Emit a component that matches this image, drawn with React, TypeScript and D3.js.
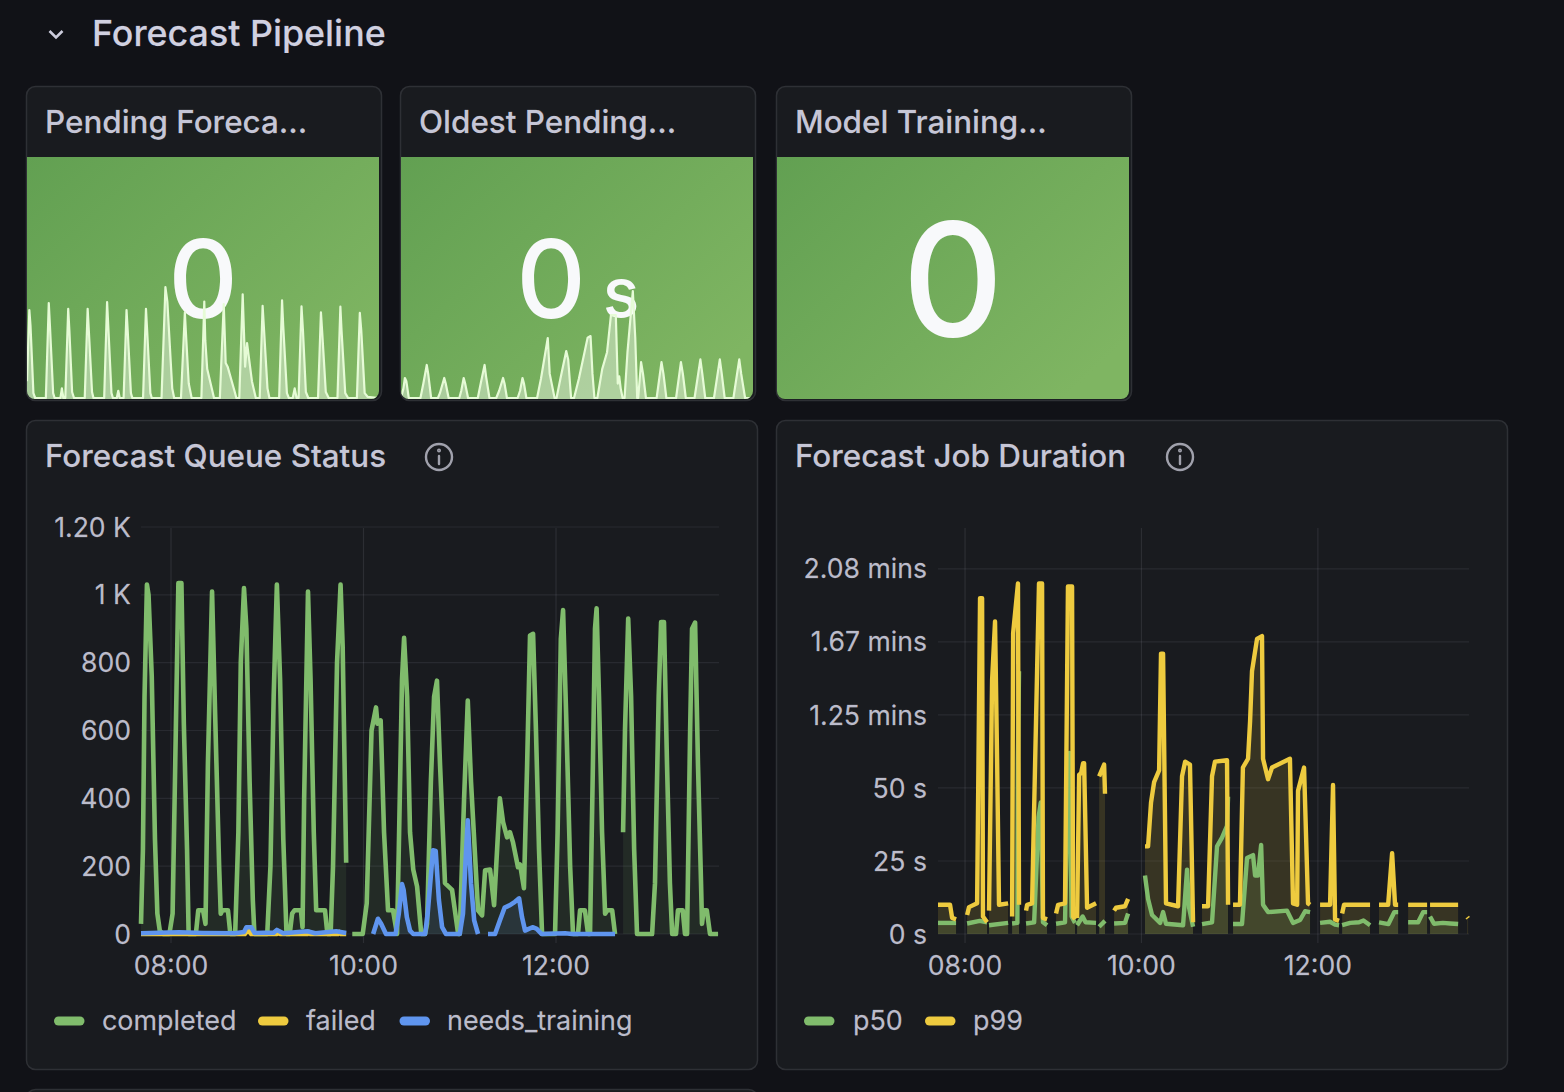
import React from "react";
import * as d3 from "d3";

type Pt = [number, number];
type Seg = Pt[];

// Forecast Queue Status: [minutes after 08:00, count]
const completed: Seg[] = [
  [[-18.7,30],[-17.5,250],[-16.5,700],[-15,1030],[-14,1000],[-12,760],[-10,280],[-8.5,60],[-7,10],[-5,0],[-1,0],[1,60],[3,600],[4.6,1035],[6.5,1035],[8,620],[10,250],[11,0],[15.5,0],[17,70],[20,70],[21.5,30],[23,500],[25.6,1010],[27.5,650],[30,200],[31,60],[32,70],[35.5,70],[37,0],[40,0],[42,300],[43.5,800],[45.5,1020],[47,900],[49,450],[51,100],[52,0],[60,0],[62,200],[64,700],[66,1030],[68,750],[70,280],[72,0],[74,0],[75.5,60],[77,70],[81,70],[82,20],[83,400],[85.4,1010],[87,750],[89,300],[90.5,70],[94,70],[96,70],[97.5,0],[99.5,0],[101,200],[103.5,800],[105.7,1030],[107,850],[109.2,210]],
  [[113,0],[119.5,0],[122,90],[125,600],[127.8,668],[128.7,620],[130.7,630],[132.8,300],[135.3,70],[138.4,70],[140.9,0],[142,250],[144,750],[145.3,873],[147.2,700],[149,300],[151,190],[153.4,140],[156,0],[158.4,0],[159.6,30],[162,450],[164,700],[165.8,747],[167.7,500],[170.8,150],[175.2,130],[179,0],[180,0],[182.7,400],[185,688],[187,450],[191.4,70],[193.9,55],[195.8,188],[198.9,190],[201.4,85],[202.6,190],[205,400],[207,330],[209.5,285],[211.3,300],[213.2,270],[216.3,197],[217.6,205],[220,135],[222,500],[223.8,880],[225.7,885],[227.5,600],[229.4,250],[231.3,0],[239.4,0],[241,300],[243,870],[244.4,955],[246.3,650],[248.8,200],[250.6,0],[253.7,0],[255,70],[258,70],[260,0],[261.2,0],[263,500],[264.3,900],[265.3,960],[266.8,700],[268.7,300],[270.6,60],[272,70],[275,70],[276.8,0]],
  [[281.8,300],[283,600],[285,930],[286.8,700],[288.7,250],[290.5,0],[299.9,0],[301.7,150],[304,700],[305.5,920],[307.3,920],[309.2,500],[311,150],[312.4,0],[314.8,0],[316,70],[319,70],[320.4,0],[321.7,0],[323.6,600],[324.8,900],[326.7,918],[328.5,500],[330.4,150],[331,30],[332,70],[334,70],[336,0],[341,0]],
];
const failed: Seg[] = [
  [[-18.7,0],[46,0],[48,12],[50,0],[66,0],[67,8],[68,0],[85,0],[86,6],[87,0],[104,0],[105,6],[106,0],[109.2,0]],
];
const needsTraining: Seg[] = [
  [[-18.7,2],[5,5],[20,3],[40,2],[45.5,6],[47,20],[50,20],[52,3],[64,4],[66,12],[70,2],[85,8],[90,2],[103,8],[109.2,3]],
  [[126,0],[129,45],[131,30],[134,0],[140,0],[142,60],[144,147],[145,130],[147,50],[149,10],[151,0],[158.4,0],[160,60],[163.3,247],[165,245],[167,100],[169,20],[171.4,0],[180,0],[182,60],[184,250],[185,335],[187,150],[189,40],[191.4,0]],
  [[197.6,0],[202,0],[205,40],[208,78],[211.3,85],[214.4,95],[217,105],[218.8,50],[220.7,10],[223,15],[225.7,20],[228,15],[231,0],[245.6,2],[250,0],[276.8,0]],
];

// Forecast Job Duration: [minutes after 08:00, seconds]
const p99: Seg[] = [
  [[-18.4,10],[-10.2,10],[-8.8,5.5],[-6.1,5]],
  [[1.4,6.5],[2.7,9.2],[8.2,10.5],[10.2,115],[11.6,115],[12.2,6],[15,4]],
  [[16.3,8],[18.4,87],[20.4,107],[21.8,60],[23.1,10],[29.3,10.5]],
  [[32,6],[32.7,103],[36,120],[36.7,10]],
  [[41.5,8],[42.2,10],[45.6,10.5],[49,90],[50.3,120],[52.4,120],[53,5.5],[55.8,5]],
  [[61.9,7],[63.3,10],[68,10.5],[70,119],[72.8,119],[73.5,6],[74.8,5]],
  [[76.2,5.5],[77.6,54.5],[78.9,55],[80.3,58.5],[81,58.5],[83,9],[89.1,10.5]],
  [[91.2,54],[94.6,58],[95.2,48]],
  [[101.4,8],[102.7,9],[108.8,9.5],[110.9,12]],
  [[122.4,30],[124.5,30],[126.5,45],[128.6,52],[132,56],[133.3,96],[134.7,96],[136.7,10.5],[144.9,9.5],[147.6,54],[149.7,59],[153,58],[155.1,4]],
  [[161.2,9.5],[165.3,9.5],[168,54],[170,59],[178.2,59.5],[178.9,10]],
  [[182.3,10],[187,10],[189,57],[192.5,60],[193.9,73],[195.2,90],[198.6,101],[202,102],[202.7,60],[206.1,53],[208.8,57],[221,60],[223.1,10.5],[225.9,10],[226.5,49],[230.6,57],[233.3,10.5],[234.7,10]],
  [[241.5,10],[248.3,10],[250.3,51],[251.7,5],[254.4,4.5]],
  [[256.5,7],[257.8,10],[275.5,10]],
  [[281.6,10],[287.8,10],[290.5,27.7],[292.5,10],[294.6,10]],
  [[301.4,10],[314.3,10]],
  [[316.3,10],[335.4,10]],
  [[341.6,5.8],[342.2,5.4]],
];
const p50: Seg[] = [
  [[-18.4,3.8],[-6.1,3.8]],
  [[1.4,3.6],[10,4.5],[15,4]],
  [[16.3,3],[29.3,3.8]],
  [[32,3.6],[35.6,3.8],[36,60],[36.7,90]],
  [[41.5,3.6],[47,4],[50,40],[51.5,45],[53,4],[55.8,3]],
  [[61.9,3.5],[68,4],[70,55],[71,62],[72.5,6],[74.8,3.8]],
  [[76.2,3],[80,6],[82,4],[89.1,3.8]],
  [[91.2,2.5],[95.2,4.5]],
  [[101.4,3.6],[108.8,3.8],[110.9,7]],
  [[122.4,20],[124.5,12],[127.2,6.5],[132.7,3.8],[134.7,7.5],[136.7,3.5],[148.3,3],[151,22],[152.4,9],[155.1,2.5]],
  [[161.2,3.4],[168,4],[171.4,30],[174.8,33],[178.2,37],[178.9,47]],
  [[182.3,3.4],[188.4,3.4],[191.8,26],[195.9,27],[197.3,20],[199.3,20],[201.4,30.5],[202.7,10],[206.1,7.5],[219,8],[223.1,3.8],[227.9,4.8],[231.3,7.8],[234.7,7.5]],
  [[241.5,3.8],[248.3,4.2],[251.7,3.2],[254.4,3]],
  [[256.5,3],[262,3.8],[268,4],[271,4.6],[275.5,3]],
  [[281.6,4],[288,3.4],[292,7.5],[294.6,7.5]],
  [[301.4,4],[308.2,4],[311.6,7.5],[314.3,7.5]],
  [[316.3,6],[319,3.5],[325,3.8],[330,3.6],[335.4,3.4]],
];

// Sparkline of Pending Forecasts: [minutes, count]
const pendingSpark: Pt[] = [[-2.4,70],[0,365],[1.2,300],[4.2,20],[6,0],[17,0],[20,394],[21.2,300],[24.5,20],[26,0],[32,0],[33.5,40],[35,0],[37,0],[40,370],[41.2,280],[44,25],[46,0],[57,0],[60,370],[61.2,280],[64.5,25],[66,0],[77,0],[80,398],[81.2,300],[84.5,20],[86,0],[90,0],[91.5,30],[93,0],[97,0],[100,365],[101.2,280],[104.5,20],[106,0],[117,0],[120,370],[121.2,280],[124.5,20],[126,0],[136,0],[140,460],[142,400],[147,40],[149,0],[156,0],[160,355],[161.5,240],[164,60],[167,0],[177,0],[180,400],[181,240],[183,120],[190,0],[196,0],[200,390],[202,145],[204,130],[211,30],[213,0],[216,0],[219.5,430],[222,130],[224,228],[229,70],[233,0],[237,0],[240,382],[241.5,280],[245,40],[247,0],[257,0],[260,405],[261.2,300],[265,20],[267,0],[271,0],[273,40],[275,0],[277,0],[280,380],[281.5,280],[284.5,25],[287,0],[297,0],[300,355],[301.2,280],[305,25],[308,0],[317,0],[320,379],[321.2,280],[325,20],[328,0],[337,0],[340,353],[341.5,280],[345,20],[348,5],[359.6,0]];

// Sparkline of Oldest Pending: [minutes, seconds]
const oldestSpark: Pt[] = [[0,0],[2.5,40],[4,83],[5.5,70],[8,0],[20,0],[23,60],[26.5,137],[28,100],[31,0],[38,0],[40,20],[44.5,83],[46,60],[49,0],[60,0],[62,30],[64.5,83],[66,60],[69,0],[79,0],[82,60],[86,137],[87.5,90],[91,0],[98,0],[101,30],[105,83],[106.5,60],[109,0],[120,0],[122.5,30],[125,83],[126.5,60],[129,0],[140,0],[144,80],[151,249],[153,100],[158,0],[160,0],[164,80],[170,195],[172,160],[175,0],[178,0],[183,80],[192,250],[195,257],[197,100],[199,0],[202,0],[207,120],[212,190],[216,344],[221,344],[223,60],[224.5,90],[226,40],[228,0],[230,0],[233,190],[238.5,444],[241,250],[243,0],[244,0],[247,149],[249,100],[252,0],[263,0],[268,149],[270,100],[273,0],[283,0],[288,149],[290,100],[293,0],[302,0],[308,160],[310,100],[313,0],[322,0],[328,160],[330,100],[333,0],[342,0],[348,160],[350,100],[354,0],[362,0]];

const queueTicks = [0, 200, 400, 600, 800, 1000, 1200];
const queueTickLabels = ["0", "200", "400", "600", "800", "1 K", "1.20 K"];
const durationTicks = [0, 25, 50, 75, 100, 125];
const durationTickLabels = ["0 s", "25 s", "50 s", "1.25 mins", "1.67 mins", "2.08 mins"];
const timeTicks = [0, 120, 240];
const timeTickLabels = ["08:00", "10:00", "12:00"];

const GREEN = "#80bc6c";
const YELLOW = "#eecb3f";
const BLUE = "#5f95ee";
const FONT = "Inter, sans-serif";
const TXT = "#ccccdc";

type S = { name: string; color: string; segs: Seg[] };

function Panel({ x, y, w, h }: { x: number; y: number; w: number; h: number }) {
  return <rect x={x + 0.5} y={y + 0.5} width={w} height={h} rx={9} fill="#191b1f" stroke="#2e3035" strokeWidth={1.5} />;
}

function Info({ cx, cy }: { cx: number; cy: number }) {
  return (
    <g stroke="#a0a1ac" fill="none" strokeWidth={2.4}>
      <circle cx={cx} cy={cy} r={13} />
      <line x1={cx} x2={cx} y1={cy - 1} y2={cy + 7} strokeLinecap="round" />
      <circle cx={cx} cy={cy - 6.5} r={0.8} />
    </g>
  );
}

function TimeSeries(props: {
  left: number; right: number; top: number; bottom: number;
  xDomain: [number, number]; yMax: number; ticks: number[]; labels: string[];
  labelX: number; series: S[]; fillOp: number; sw: number;
}) {
  const { left, right, top, bottom, xDomain, yMax, ticks, labels, labelX, series, fillOp, sw } = props;
  const x = d3.scaleLinear().domain(xDomain).range([left, right]);
  const y = d3.scaleLinear().domain([0, yMax]).range([bottom, top]);
  const line = d3.line<Pt>().x((d) => x(d[0])).y((d) => y(d[1]));
  const area = d3.area<Pt>().x((d) => x(d[0])).y0(y(0)).y1((d) => y(d[1]));
  const tickText = { fontSize: 26.6, fill: TXT, fillOpacity: 0.92, stroke: TXT, strokeOpacity: 0.5, strokeWidth: 0.3 };
  return (
    <g fontFamily={FONT}>
      {ticks.map((t, i) => (
        <g key={t}>
          <line x1={left} x2={right} y1={y(t)} y2={y(t)} stroke="#ccccdc" strokeOpacity={0.09} strokeWidth={1.2} />
          <text x={labelX} y={y(t)} dy="0.36em" textAnchor="end" {...tickText}>{labels[i]}</text>
        </g>
      ))}
      {timeTicks.map((t, i) => (
        <g key={t}>
          <line x1={x(t)} x2={x(t)} y1={528} y2={943} stroke="#ccccdc" strokeOpacity={0.11} strokeWidth={1.2} />
          <text x={x(t)} y={975} textAnchor="middle" {...tickText}>{timeTickLabels[i]}</text>
        </g>
      ))}
      {series.map((s) => s.segs.map((seg, j) => (
        <path key={s.name + "a" + j} d={area(seg) ?? ""} fill={s.color} fillOpacity={fillOp} />
      )))}
      {series.map((s) => s.segs.map((seg, j) => (
        <path key={s.name + "l" + j} d={line(seg) ?? ""} fill="none" stroke={s.color} strokeWidth={sw} strokeLinejoin="round" />
      )))}
    </g>
  );
}

function Spark({ data, x0, clip }: { data: Pt[]; x0: number; clip: string }) {
  const [lo, hi] = d3.extent(data, (d) => d[0]) as [number, number];
  const x = d3.scaleLinear().domain([lo, hi]).range([x0, x0 + (hi - lo) * 0.972]);
  const y = d3.scaleLinear().domain([0, 1000]).range([398, 157]);
  const line = d3.line<Pt>().x((d) => x(d[0])).y((d) => y(d[1]));
  const area = d3.area<Pt>().x((d) => x(d[0])).y0(400).y1((d) => y(d[1]));
  return (
    <g clipPath={`url(#${clip})`}>
      <path d={area(data) ?? ""} fill="#ffffff" fillOpacity={0.4} />
      <path d={line(data) ?? ""} fill="none" stroke="#e6fbd6" strokeWidth={2.2} strokeLinejoin="round" />
    </g>
  );
}

function Legend({ items, y }: { items: { label: string; color: string; sx: number; tx: number }[]; y: number }) {
  return (
    <g fontFamily={FONT} fontSize={26.9} fill={TXT} fillOpacity={0.92} stroke={TXT} strokeOpacity={0.5} strokeWidth={0.3}>
      {items.map((it) => (
        <g key={it.label}>
          <rect x={it.sx} y={y - 4.5} width={30.5} height={9} rx={4.5} fill={it.color} fillOpacity={1} stroke="none" />
          <text x={it.tx} y={y + 9}>{it.label}</text>
        </g>
      ))}
    </g>
  );
}

export default function App() {
  const stats = [
    { x: 26, title: "Pending Foreca..." },
    { x: 400, title: "Oldest Pending..." },
    { x: 776, title: "Model Training..." },
  ];
  const queueSeries: S[] = [
    { name: "completed", color: GREEN, segs: completed },
    { name: "failed", color: YELLOW, segs: failed },
    { name: "needs_training", color: BLUE, segs: needsTraining },
  ];
  const durationSeries: S[] = [
    { name: "p50", color: GREEN, segs: p50 },
    { name: "p99", color: YELLOW, segs: p99 },
  ];
  const titleText = { fontFamily: FONT, fontWeight: 500, fontSize: 31.4, fill: TXT, fillOpacity: 0.97, stroke: TXT, strokeOpacity: 0.5, strokeWidth: 0.3 };
  return (
    <svg width={1564} height={1092} viewBox="0 0 1564 1092" style={{ position: "absolute", left: 0, top: 0, display: "block", background: "#111217" }}>
      <defs>
        <linearGradient id="statGrad" x1="0" y1="0" x2="1" y2="0.75">
          <stop offset="0" stopColor="#62a052" />
          <stop offset="1" stopColor="#7fb562" />
        </linearGradient>
        {stats.map((s, i) => (
          <clipPath id={`statClip${i}`} key={i}>
            <path d={`M${s.x + 1} 157H${s.x + 353}V391a8 8 0 0 1 -8 8H${s.x + 9}a8 8 0 0 1 -8 -8Z`} />
          </clipPath>
        ))}
      </defs>

      <path d="M49.5 31 L56 37.5 L62.5 31" fill="none" stroke={TXT} strokeWidth={2.6} />
      <text x={92} y={46} fontFamily={FONT} fontWeight={500} fontSize={35.8} fill="#d0d0e0" stroke="#d0d0e0" strokeOpacity={0.5} strokeWidth={0.3}>Forecast Pipeline</text>

      {stats.map((s, i) => (
        <g key={s.title}>
          <Panel x={s.x} y={86} w={355} h={314} />
          <path d={`M${s.x + 1} 157H${s.x + 353}V391a8 8 0 0 1 -8 8H${s.x + 9}a8 8 0 0 1 -8 -8Z`} fill="url(#statGrad)" />
          <text x={s.x + 19} y={133} {...titleText}>{s.title}</text>
        </g>
      ))}

      <text x={203} y={318} textAnchor="middle" fontFamily={FONT} fontWeight={500} fontSize={108} fill="#f8f9fb">0</text>
      <text x={551} y={318} textAnchor="middle" fontFamily={FONT} fontWeight={500} fontSize={108} fill="#f8f9fb">0</text>
      <text x={621} y={317} textAnchor="middle" fontFamily={FONT} fontWeight={500} fontSize={68} fill="#f8f9fb">s</text>
      <text x={953} y={336} textAnchor="middle" fontFamily={FONT} fontWeight={500} fontSize={157} fill="#f8f9fb">0</text>

      <Spark data={pendingSpark} x0={27} clip="statClip0" />
      <Spark data={oldestSpark} x0={401} clip="statClip1" />

      <Panel x={26} y={420} w={731} h={649} />
      <Panel x={776} y={420} w={731} h={649} />
      <rect x={26.5} y={1089.5} width={731} height={40} rx={9} fill="#191b1f" stroke="#2e3035" strokeWidth={1.5} />

      <text x={45} y={467} {...titleText}>Forecast Queue Status</text>
      <Info cx={439} cy={457} />
      <text x={795} y={467} {...titleText}>Forecast Job Duration</text>
      <Info cx={1180} cy={457} />

      <TimeSeries left={141} right={719} top={527} bottom={934} xDomain={[-18.7, 341.6]} yMax={1200}
        ticks={queueTicks} labels={queueTickLabels} labelX={131} series={queueSeries} fillOp={0.1} sw={4.6} />
      <TimeSeries left={938} right={1469} top={528} bottom={934} xDomain={[-18.4, 342.8]} yMax={139}
        ticks={durationTicks} labels={durationTickLabels} labelX={927} series={durationSeries} fillOp={0.14} sw={4.4} />

      <Legend y={1021} items={[
        { label: "completed", color: GREEN, sx: 54, tx: 102 },
        { label: "failed", color: YELLOW, sx: 258, tx: 306 },
        { label: "needs_training", color: BLUE, sx: 399.5, tx: 447 },
      ]} />
      <Legend y={1021} items={[
        { label: "p50", color: GREEN, sx: 804, tx: 853 },
        { label: "p99", color: YELLOW, sx: 925, tx: 973 },
      ]} />
    </svg>
  );
}
